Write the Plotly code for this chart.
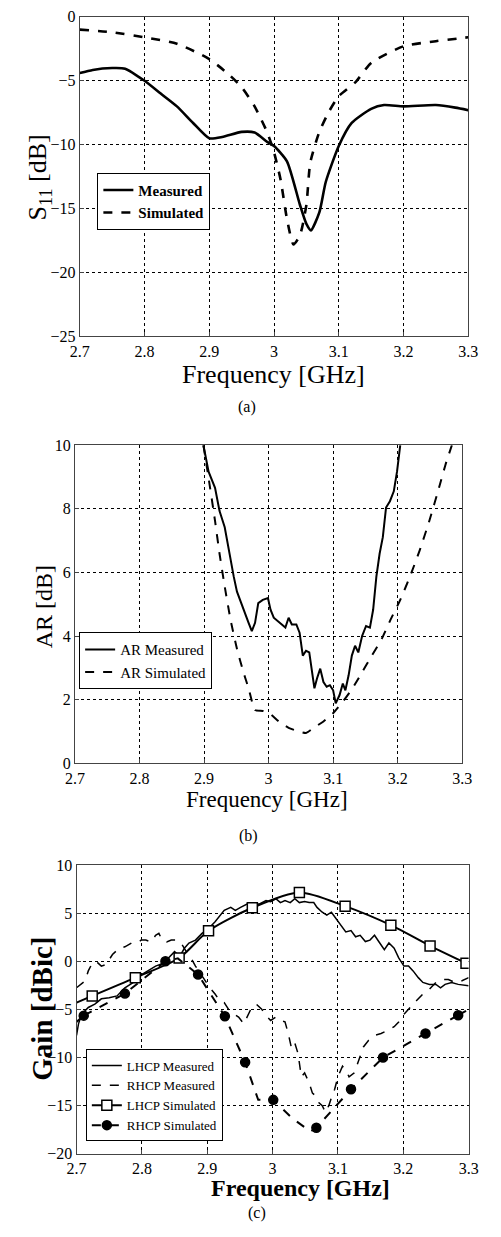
import plotly.graph_objects as go

W, H = 501, 1237
FONT = "Times New Roman, Liberation Serif, DejaVu Serif, serif"

# ---------------- (a) S11 ----------------
s11_meas_f = [2.70, 2.72, 2.75, 2.77, 2.80, 2.825, 2.85, 2.875, 2.90, 2.92, 2.95, 2.97,
              2.99, 3.00, 3.02, 3.04, 3.05, 3.057, 3.07, 3.08, 3.10, 3.12, 3.15, 3.17,
              3.20, 3.25, 3.28, 3.30]
s11_meas = [-4.4, -4.15, -4.0, -4.05, -5.0, -6.0, -7.0, -8.3, -9.5, -9.4, -9.0, -9.05,
            -9.8, -10.1, -11.3, -14.7, -16.2, -16.7, -15.3, -12.9, -10.1, -8.3, -7.2, -6.9,
            -7.0, -6.9, -7.1, -7.3]
s11_sim_f = [2.70, 2.75, 2.80, 2.85, 2.90, 2.93, 2.95, 2.97, 2.99, 3.00, 3.01, 3.02,
             3.03, 3.04, 3.05, 3.056, 3.07, 3.085, 3.10, 3.126, 3.15, 3.20, 3.25, 3.30]
s11_sim = [-1.0, -1.2, -1.6, -2.1, -3.3, -4.5, -5.5, -7.0, -9.1, -10.6, -12.7, -15.8,
           -17.8, -17.1, -14.7, -11.4, -9.0, -7.4, -6.2, -5.1, -3.6, -2.3, -1.9, -1.6]

# ---------------- (b) AR ----------------
ar_meas_f = [2.899, 2.907, 2.917, 2.924, 2.932, 2.939, 2.946, 2.951, 2.959, 2.969, 2.974,
             2.979, 2.984, 2.991, 2.999, 3.003, 3.008, 3.018, 3.026, 3.031, 3.036, 3.043,
             3.048, 3.053, 3.058, 3.063, 3.068, 3.071, 3.075, 3.080, 3.085, 3.090, 3.095,
             3.100, 3.104, 3.110, 3.115, 3.119, 3.124, 3.129, 3.134, 3.139, 3.145, 3.151,
             3.157, 3.162, 3.167, 3.172, 3.177, 3.182, 3.188, 3.194, 3.199, 3.204]
ar_meas = [10.0, 9.17, 8.66, 7.93, 7.42, 6.59, 5.87, 5.40, 4.94, 4.42, 4.16,
           4.42, 5.04, 5.14, 5.20, 4.83, 4.58, 4.42, 4.27, 4.58, 4.37, 4.37,
           4.11, 3.39, 3.54, 3.49, 2.87, 2.36, 2.67, 2.98, 2.56, 2.41, 2.46,
           2.30, 1.89, 2.15, 2.51, 2.30, 2.77, 3.39, 3.70, 3.49, 4.01, 4.32,
           4.27, 4.83, 5.87, 6.59, 7.11, 8.04, 8.24, 8.55, 9.17, 10.0]
ar_sim_f = [2.899, 2.907, 2.917, 2.924, 2.932, 2.941, 2.951, 2.961, 2.969, 2.979, 2.991,
            3.001, 3.016, 3.031, 3.046, 3.058, 3.070, 3.085, 3.100, 3.115, 3.130, 3.145,
            3.160, 3.175, 3.189, 3.204, 3.219, 3.234, 3.249, 3.264, 3.274, 3.284]
ar_sim = [10.0, 8.97, 7.62, 6.59, 5.56, 4.52, 3.60, 2.87, 2.36, 1.68, 1.65,
          1.58, 1.32, 1.12, 1.01, 0.96, 1.12, 1.32, 1.58, 1.94, 2.36, 2.87,
          3.39, 3.90, 4.52, 5.14, 5.87, 6.69, 7.62, 8.66, 9.38, 10.0]

# ---------------- (c) Gain ----------------
lhcp_meas_f = [2.700, 2.703, 2.708, 2.718, 2.728, 2.738, 2.750, 2.762, 2.774, 2.787, 2.799,
               2.809, 2.821, 2.833, 2.843, 2.850, 2.858, 2.865, 2.872, 2.882, 2.892, 2.902,
               2.912, 2.921, 2.926, 2.936, 2.943, 2.951, 2.961, 2.970, 2.980, 2.990, 2.997,
               3.005, 3.012, 3.019, 3.027, 3.034, 3.041, 3.049, 3.056, 3.063, 3.068, 3.076,
               3.083, 3.090, 3.098, 3.106, 3.112, 3.120, 3.127, 3.134, 3.142, 3.149, 3.156,
               3.164, 3.171, 3.178, 3.186, 3.193, 3.201, 3.208, 3.215, 3.223, 3.230, 3.240,
               3.250, 3.257, 3.264, 3.274, 3.284, 3.300]
lhcp_meas = [-7.7, -6.5, -5.5, -4.8, -4.45, -3.9, -3.8, -3.6, -2.75, -2.2, -1.4,
             -1.0, -0.5, -0.2, 0.5, 1.0, 0.5, 1.35, 1.9, 2.2, 2.9, 3.4,
             4.1, 4.8, 5.3, 5.6, 5.3, 5.6, 5.95, 5.95, 5.95, 6.3, 6.2,
             6.5, 6.1, 6.3, 6.1, 6.5, 6.1, 6.2, 6.1, 6.1, 5.6, 5.1,
             4.8, 5.1, 4.4, 3.6, 3.05, 3.2, 2.55, 2.7, 2.05, 2.2, 2.7,
             1.9, 1.2, 1.9, 1.35, 0.35, -0.5, -0.5, -1.0, -1.7, -2.2, -2.4,
             -2.4, -2.75, -2.4, -2.2, -2.4, -2.55]
rhcp_meas_f = [2.700, 2.706, 2.713, 2.718, 2.724, 2.730, 2.738, 2.745, 2.755, 2.765, 2.774,
               2.784, 2.792, 2.799, 2.806, 2.814, 2.821, 2.826, 2.831, 2.838, 2.845, 2.853,
               2.860, 2.868, 2.875, 2.882, 2.890, 2.897, 2.904, 2.912, 2.919, 2.926, 2.934,
               2.941, 2.948, 2.956, 2.961, 2.968, 2.975, 2.983, 2.990, 2.997, 3.005, 3.012,
               3.019, 3.024, 3.029, 3.034, 3.039, 3.044, 3.049, 3.056, 3.061, 3.066, 3.071,
               3.076, 3.081, 3.086, 3.091, 3.095, 3.100, 3.107, 3.112, 3.117, 3.125, 3.132,
               3.139, 3.147, 3.156, 3.166, 3.176, 3.186, 3.193, 3.201, 3.210, 3.220, 3.230,
               3.240, 3.250, 3.259, 3.269, 3.279, 3.289, 3.300]
rhcp_meas = [-2.75, -2.4, -2.05, -1.0, -0.2, 0.0, -0.5, -0.35, 0.7, 1.35, 1.5,
             1.9, 1.9, 2.2, 2.2, 2.0, 2.7, 2.9, 2.2, 2.0, 2.2, 2.2,
             1.9, 1.0, 0.35, -0.5, -1.35, -2.05, -2.75, -3.4, -4.1, -4.3, -5.15,
             -5.5, -5.8, -6.5, -5.8, -4.8, -4.45, -4.95, -5.65, -6.15, -5.8, -6.15,
             -6.3, -7.5, -9.05, -8.5, -9.6, -12.0, -11.6, -12.65, -13.7, -14.0, -14.7,
             -15.0, -15.7, -15.0, -14.0, -13.3, -12.0, -10.9, -11.3, -12.0, -11.6, -10.25,
             -8.9, -8.2, -7.7, -7.5, -7.2, -6.8, -6.3, -5.5, -4.8, -4.1, -3.4,
             -2.9, -2.2, -1.9, -1.9, -2.2, -2.05, -1.7]
lhcp_sim_f = [2.700, 2.724, 2.790, 2.857, 2.902, 2.969, 3.041, 3.111, 3.181, 3.241, 3.296]
lhcp_sim = [-4.3, -3.6, -1.7, 0.34, 3.17, 5.56, 7.16, 5.73, 3.75, 1.6, -0.2]
lhcp_sim_mark = [0, 1, 1, 1, 1, 1, 1, 1, 1, 1, 1]
rhcp_sim_f = [2.700, 2.711, 2.774, 2.836, 2.855, 2.886, 2.927, 2.958, 2.978, 3.001, 3.030,
              3.058, 3.067, 3.120, 3.169, 3.234, 3.284, 3.300]
rhcp_sim = [-6.3, -5.65, -3.36, 0.0, 0.3, -1.38, -5.72, -10.5, -14.4, -14.4, -16.3,
            -17.7, -17.3, -13.3, -10.0, -7.5, -5.6, -5.0]
rhcp_sim_mark = [0, 1, 1, 1, 0, 1, 1, 1, 0, 1, 0, 0, 1, 1, 1, 1, 1, 0]

fig = go.Figure()

# (a)
fig.add_trace(go.Scatter(x=s11_meas_f, y=s11_meas, mode="lines", name="Measured",
                         line=dict(color="black", width=2.6, shape="spline", smoothing=0.6),
                         xaxis="x", yaxis="y", legend="legend"))
fig.add_trace(go.Scatter(x=s11_sim_f, y=s11_sim, mode="lines", name="Simulated",
                         line=dict(color="black", width=2.6, dash="dash", shape="spline", smoothing=0.6),
                         xaxis="x", yaxis="y", legend="legend"))
# (b)
fig.add_trace(go.Scatter(x=ar_meas_f, y=ar_meas, mode="lines", name="AR Measured",
                         line=dict(color="black", width=2),
                         xaxis="x2", yaxis="y2", legend="legend2"))
fig.add_trace(go.Scatter(x=ar_sim_f, y=ar_sim, mode="lines", name="AR Simulated",
                         line=dict(color="black", width=2, dash="dash", shape="spline", smoothing=0.5),
                         xaxis="x2", yaxis="y2", legend="legend2"))
# (c)
fig.add_trace(go.Scatter(x=lhcp_meas_f, y=lhcp_meas, mode="lines", name="LHCP Measured",
                         line=dict(color="black", width=1.5),
                         xaxis="x3", yaxis="y3", legend="legend3"))
fig.add_trace(go.Scatter(x=rhcp_meas_f, y=rhcp_meas, mode="lines", name="RHCP Measured",
                         line=dict(color="black", width=1.5, dash="dash"),
                         xaxis="x3", yaxis="y3", legend="legend3"))

TRANSP = "rgba(0,0,0,0)"

def marked_series(fx, fy, mark, name, line, fill, size, symbol):
    idx = [i for i, m in enumerate(mark) if m]
    i0, i1 = idx[0], idx[-1]
    lead_line = dict(line)
    lead_line.pop("shape", None)
    lead_line.pop("smoothing", None)
    # segment before first marker and after last marker (line only)
    if i0 > 0:
        fig.add_trace(go.Scatter(x=fx[:i0 + 1], y=fy[:i0 + 1], mode="lines", showlegend=False,
                                 line=lead_line, xaxis="x3", yaxis="y3", hoverinfo="skip"))
    if i1 < len(fx) - 1:
        fig.add_trace(go.Scatter(x=fx[i1:], y=fy[i1:], mode="lines", showlegend=False,
                                 line=lead_line, xaxis="x3", yaxis="y3", hoverinfo="skip"))
    sub = mark[i0:i1 + 1]
    fig.add_trace(go.Scatter(
        x=fx[i0:i1 + 1], y=fy[i0:i1 + 1], mode="lines+markers", name=name, line=line,
        marker=dict(symbol=symbol, size=size,
                    color=[fill if m else TRANSP for m in sub],
                    line=dict(width=1.5, color=["black" if m else TRANSP for m in sub])),
        xaxis="x3", yaxis="y3", legend="legend3"))

marked_series(lhcp_sim_f, lhcp_sim, lhcp_sim_mark, "LHCP Simulated",
              dict(color="black", width=2, shape="spline", smoothing=0.8), "white", 10, "square")
marked_series(rhcp_sim_f, rhcp_sim, rhcp_sim_mark, "RHCP Simulated",
              dict(color="black", width=2, dash="dash"), "black", 9, "circle")

def yd(top, bottom):
    return [1 - bottom / H, 1 - top / H]

xticks = [2.7, 2.8, 2.9, 3.0, 3.1, 3.2, 3.3]
xtext = ["2.7", "2.8", "2.9", "3", "3.1", "3.2", "3.3"]

axcommon = dict(showgrid=True, gridcolor="black", griddash="dot", gridwidth=1,
                showline=True, mirror=True, linecolor="#444", linewidth=1,
                ticks="inside", ticklen=4, tickcolor="#444", zeroline=False,
                tickfont=dict(family=FONT, size=16, color="black"))

fig.update_layout(
    width=W, height=H, margin=dict(l=0, r=0, t=0, b=0),
    paper_bgcolor="white", plot_bgcolor="white", showlegend=True,
    font=dict(family=FONT, color="black"),
    xaxis=dict(domain=[72.7 / W, 477.3 / W], range=[2.7, 3.3], tickvals=xticks, ticktext=xtext,
               anchor="y", **axcommon),
    yaxis=dict(domain=yd(9, 333), range=[-25, 0], tickvals=[-25, -20, -15, -10, -5, 0],
               anchor="x", **axcommon),
    xaxis2=dict(domain=[67.7 / W, 471 / W], range=[2.7, 3.3], tickvals=xticks, ticktext=xtext,
                anchor="y2", **axcommon),
    yaxis2=dict(domain=yd(443.3, 766), range=[0, 10], tickvals=[0, 2, 4, 6, 8, 10],
                anchor="x2", **axcommon),
    xaxis3=dict(domain=[69.3 / W, 477.7 / W], range=[2.7, 3.3], tickvals=xticks, ticktext=xtext,
                anchor="y3", **axcommon),
    yaxis3=dict(domain=yd(869, 1161.7), range=[-20, 10], tickvals=[-20, -15, -10, -5, 0, 5, 10],
                anchor="x3", **axcommon),
    legend=dict(x=91 / W, y=1 - 167 / H, xanchor="left", yanchor="top",
                bgcolor="white", bordercolor="black", borderwidth=1,
                font=dict(family=FONT, size=15, color="black", weight="bold")),
    legend2=dict(x=72 / W, y=1 - 633 / H, xanchor="left", yanchor="top",
                 bgcolor="white", bordercolor="black", borderwidth=1,
                 font=dict(family=FONT, size=15, color="black")),
    legend3=dict(x=79 / W, y=1 - 1056 / H, xanchor="left", yanchor="top",
                 bgcolor="white", bordercolor="black", borderwidth=1,
                 font=dict(family=FONT, size=13, color="black")),
)

def ann(text, xc, yc, size, bold=False, angle=0):
    fig.add_annotation(text=text, x=xc / W, y=1 - yc / H, xref="paper", yref="paper",
                       xanchor="center", yanchor="middle", showarrow=False, textangle=angle,
                       font=dict(family=FONT, size=size, color="black",
                                 weight="bold" if bold else "normal"))

ann("Frequency [GHz]", 274, 372, 26)
ann("S<sub>11</sub> [dB]", 30, 172, 26, angle=-90)
ann("(a)", 247, 405, 16)
ann("Frequency [GHz]", 267.5, 803, 23)
ann("AR [dB]", 35, 607, 24, angle=-90)
ann("(b)", 248, 840, 16)
ann("Frequency [GHz]", 302.5, 1196, 24, bold=True)
ann("Gain [dBic]", 33, 1015, 29, bold=True, angle=-90)
ann("(c)", 257, 1222, 16)

fig.write_html("out.html")
